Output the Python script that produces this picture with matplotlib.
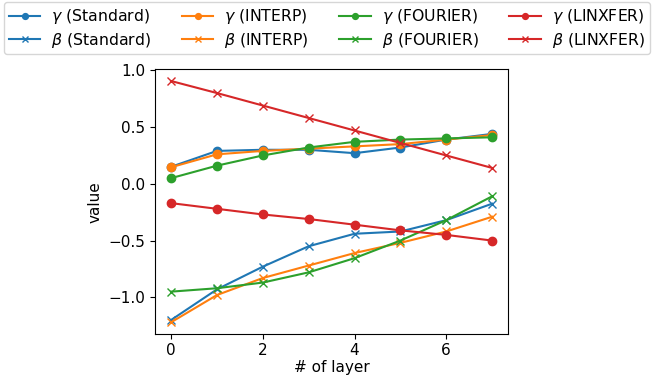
import matplotlib
matplotlib.use("Agg")
import matplotlib.pyplot as plt

layers = [0, 1, 2, 3, 4, 5, 6, 7]

gamma_standard = [0.15, 0.29, 0.30, 0.30, 0.27, 0.32, 0.39, 0.44]
beta_standard = [-1.20, -0.93, -0.73, -0.55, -0.44, -0.42, -0.32, -0.175]
gamma_interp = [0.146, 0.26, 0.29, 0.31, 0.33, 0.35, 0.39, 0.43]
beta_interp = [-1.22, -0.98, -0.83, -0.72, -0.61, -0.52, -0.42, -0.29]
gamma_fourier = [0.05, 0.16, 0.25, 0.32, 0.37, 0.39, 0.40, 0.41]
beta_fourier = [-0.95, -0.92, -0.87, -0.78, -0.655, -0.50, -0.32, -0.11]
gamma_linxfer = [-0.17, -0.22, -0.27, -0.31, -0.36, -0.41, -0.45, -0.50]
beta_linxfer = [0.906, 0.80, 0.69, 0.58, 0.47, 0.36, 0.25, 0.14]

series = [
    ("Standard", gamma_standard, beta_standard, "C0"),
    ("INTERP", gamma_interp, beta_interp, "C1"),
    ("FOURIER", gamma_fourier, beta_fourier, "C2"),
    ("LINXFER", gamma_linxfer, beta_linxfer, "C3"),
]

plt.rcParams["font.size"] = 11

fig, ax = plt.subplots(figsize=(6.54, 3.83), dpi=100)
fig.subplots_adjust(left=0.237, right=0.777, top=0.820, bottom=0.127)

handles = []
for name, g, b, c in series:
    hg, = ax.plot(layers, g, "o-", color=c, label=r"$\gamma$ (%s)" % name)
    hb, = ax.plot(layers, b, "x-", color=c, label=r"$\beta$ (%s)" % name)
    handles += [hg, hb]

ax.set_xlabel("# of layer", labelpad=2)
ax.set_ylabel("value")
ax.tick_params(axis="x", pad=2.5)

fig.legend(handles=handles, loc="upper center", ncol=4, markerscale=0.7,
           fontsize=11.3, labelspacing=0.3, borderpad=0.3, handletextpad=0.7,
           columnspacing=1.95, bbox_to_anchor=(0.5, 1.0), borderaxespad=0.15)

fig.savefig("out.png")
